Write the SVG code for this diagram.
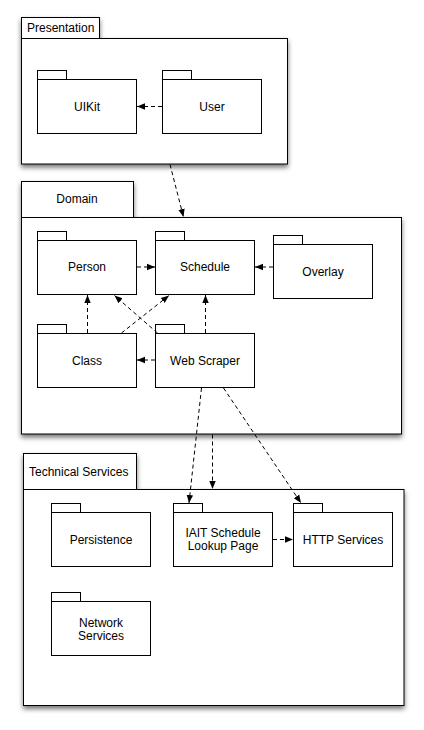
<svg xmlns="http://www.w3.org/2000/svg" width="424" height="730" viewBox="0 0 424 730">
<defs>
<filter id="sh" x="-10%" y="-10%" width="120%" height="125%">
<feDropShadow dx="0" dy="3" stdDeviation="2.5" flood-color="#000" flood-opacity="0.55"/>
</filter>
<marker id="ah" viewBox="0 0 10 10" refX="10" refY="5" markerWidth="8" markerHeight="8" markerUnits="userSpaceOnUse" orient="auto">
<path d="M0,1 L10,5 L0,9 Z" fill="#000"/>
</marker>
</defs>
<style>
.frame{fill:#fff;stroke:#000;stroke-width:1}
.pkg{fill:#fff;stroke:#000;stroke-width:1}
text{font-family:"Liberation Sans",Arial,sans-serif;font-size:12px;fill:#000}
.c{text-anchor:middle}
.dep{fill:none;stroke:#000;stroke-width:1;stroke-dasharray:4,3;marker-end:url(#ah)}
</style>
<rect width="424" height="730" fill="#fff"/>

<g id="presentation" filter="url(#sh)">
<rect class="frame" x="21.5" y="17.5" width="78" height="21"/>
<rect class="frame" x="21.5" y="38.5" width="266" height="125.5"/>
</g>
<text x="27" y="31.5">Presentation</text>

<g id="domain" filter="url(#sh)">
<rect class="frame" x="21.5" y="181.5" width="112" height="36"/>
<rect class="frame" x="21.5" y="217.5" width="380" height="216.5"/>
</g>
<text class="c" x="77" y="203">Domain</text>

<g id="technical-services" filter="url(#sh)">
<rect class="frame" x="23.5" y="453.5" width="113" height="36"/>
<rect class="frame" x="23.5" y="489.5" width="380.5" height="216"/>
</g>
<text x="29" y="476">Technical Services</text>

<g id="uikit">
<rect class="pkg" x="37.5" y="70.5" width="29" height="9"/>
<rect class="pkg" x="37.5" y="79.5" width="99" height="54"/>
<text class="c" x="87" y="110.5">UIKit</text>
</g>
<g id="user">
<rect class="pkg" x="162.5" y="70.5" width="29" height="9"/>
<rect class="pkg" x="162.5" y="79.5" width="99" height="54"/>
<text class="c" x="212" y="110.5">User</text>
</g>

<g id="person">
<rect class="pkg" x="37.5" y="231.5" width="29" height="9"/>
<rect class="pkg" x="37.5" y="240.5" width="99" height="54"/>
<text class="c" x="87" y="271">Person</text>
</g>
<g id="schedule">
<rect class="pkg" x="155.5" y="231.5" width="29" height="9"/>
<rect class="pkg" x="155.5" y="240.5" width="99" height="54"/>
<text class="c" x="205" y="271">Schedule</text>
</g>
<g id="overlay">
<rect class="pkg" x="273.5" y="235.5" width="29" height="9"/>
<rect class="pkg" x="273.5" y="244.5" width="99" height="54"/>
<text class="c" x="323" y="275.5">Overlay</text>
</g>
<g id="class">
<rect class="pkg" x="37.5" y="324.5" width="29" height="9"/>
<rect class="pkg" x="37.5" y="333.5" width="99" height="54"/>
<text class="c" x="87" y="364.5">Class</text>
</g>
<g id="web-scraper">
<rect class="pkg" x="155.5" y="324.5" width="29" height="9"/>
<rect class="pkg" x="155.5" y="333.5" width="99" height="54"/>
<text class="c" x="205" y="364.5">Web Scraper</text>
</g>

<g id="persistence">
<rect class="pkg" x="51.5" y="503.5" width="29" height="9"/>
<rect class="pkg" x="51.5" y="512.5" width="99" height="54"/>
<text class="c" x="101" y="543.5">Persistence</text>
</g>
<g id="iait">
<rect class="pkg" x="173.5" y="503.5" width="29" height="9"/>
<rect class="pkg" x="173.5" y="512.5" width="99" height="54"/>
<text class="c" x="223" y="537">IAIT Schedule</text>
<text class="c" x="223" y="549.5">Lookup Page</text>
</g>
<g id="http">
<rect class="pkg" x="293.5" y="503.5" width="29" height="9"/>
<rect class="pkg" x="293.5" y="512.5" width="99" height="54"/>
<text class="c" x="343" y="543.5">HTTP Services</text>
</g>
<g id="network">
<rect class="pkg" x="51.5" y="592.5" width="29" height="9"/>
<rect class="pkg" x="51.5" y="601.5" width="99" height="54"/>
<text class="c" x="101" y="626.5">Network</text>
<text class="c" x="101" y="639.5">Services</text>
</g>

<g id="connectors">
<line class="dep" x1="162" y1="106.5" x2="137" y2="106.5"/>
<line class="dep" x1="170" y1="164.5" x2="183.5" y2="217"/>
<line class="dep" x1="137" y1="267" x2="155" y2="267"/>
<line class="dep" x1="273" y1="267" x2="255" y2="267"/>
<line class="dep" x1="87.5" y1="333" x2="87.5" y2="295"/>
<line class="dep" x1="205.5" y1="333" x2="205.5" y2="295"/>
<line class="dep" x1="121.5" y1="333" x2="169" y2="295.5"/>
<line class="dep" x1="157.5" y1="333" x2="114.5" y2="295.5"/>
<line class="dep" x1="155" y1="360" x2="137" y2="360"/>
<line class="dep" x1="201.5" y1="388" x2="189" y2="503"/>
<line class="dep" x1="212.5" y1="434.5" x2="212.5" y2="489"/>
<line class="dep" x1="223.5" y1="388" x2="301" y2="503"/>
<line class="dep" x1="273" y1="539.5" x2="293" y2="539.5"/>
</g>
</svg>
